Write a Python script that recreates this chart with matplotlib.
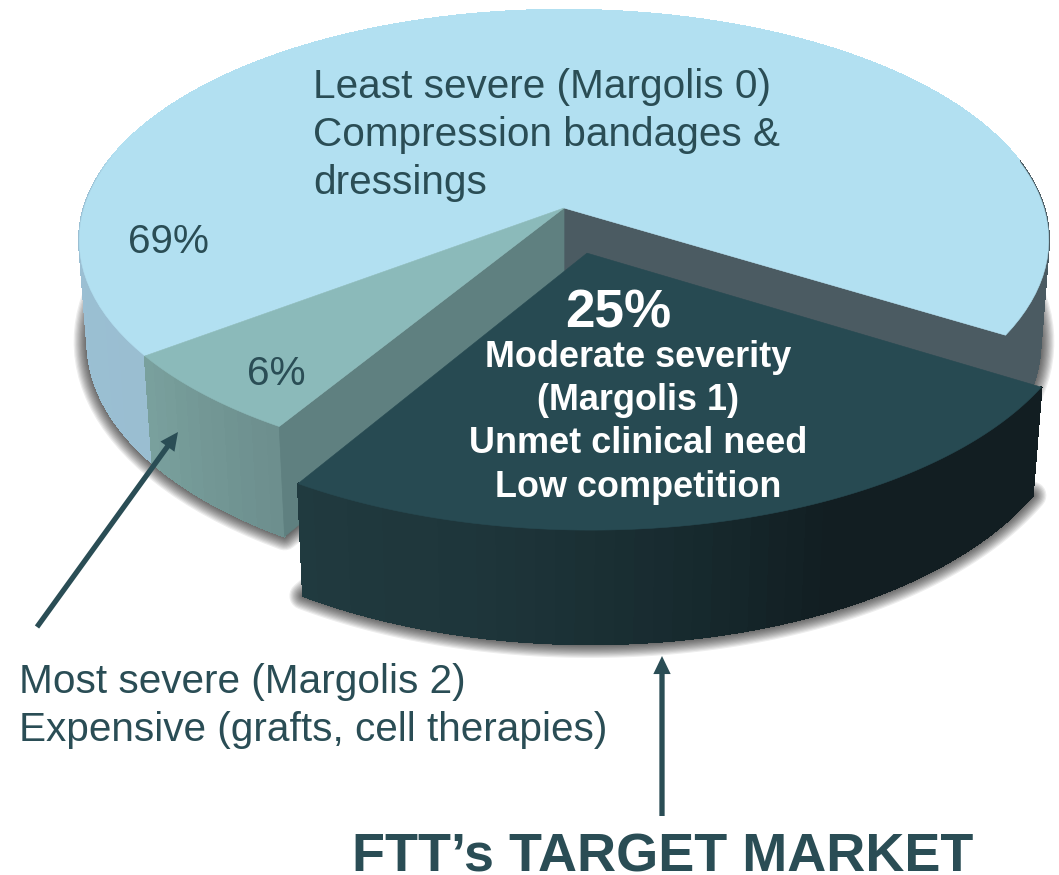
import numpy as np
import matplotlib
matplotlib.use('Agg')
import matplotlib.pyplot as plt
from matplotlib.colors import to_rgb
from matplotlib.patches import Polygon

# Market share of each wound severity group
labels = ['Least severe', 'Most severe', 'Moderate severity']
shares = [69, 6, 25]
start_angle = 328.5  # degrees, slices run counter-clockwise

top_colors = ['#b2e0f1', '#8bbaba', '#274a52']
text_color = '#2a4d55'

# Perspective camera for the pie (pixel units)
cx, cy = 564, 208
ax_x, ax_y = 480, 225.7
persp = 0.14
depth_y = 102.4
depth_w = 0.017

radius_main = 1.0
radius_out = 0.995
explode_dist = 0.2


def project(u, v, z=0.0):
    w = 1 + persp * v + depth_w * z
    return cx + ax_x * u / w, cy + (-ax_y * v + depth_y * z) / w


def arc(t1, t2, r, off, z=0.0, n=120):
    t = np.radians(np.linspace(t1, t2, n))
    return project(off[0] + r * np.cos(t), off[1] + r * np.sin(t), z)


def top_face(t1, t2, r, off):
    ax_, ay_ = project(off[0], off[1])
    xs, ys = arc(t1, t2, r, off)
    return np.column_stack([np.r_[ax_, xs], np.r_[ay_, ys]])


def bottom_face(t1, t2, r, off):
    ax_, ay_ = project(off[0], off[1], 1)
    xs, ys = arc(t1, t2, r, off, 1)
    return np.column_stack([np.r_[ax_, xs], np.r_[ay_, ys]])


def draw_rim(ax, t1, t2, r, off, stops, angles, zorder):
    # outer wall as thin quads so the colour can change along it
    edges = np.arange(t1, t2 + 2.0, 2.0)
    edges[-1] = t2
    rgb = np.array([to_rgb(c) for c in stops])
    for a, b in zip(edges[:-1], edges[1:]):
        xa, ya = arc(a, b, r, off, 0, 4)
        xb, yb = arc(a, b, r, off, 1, 4)
        pts = np.column_stack([np.r_[xa, xb[::-1]], np.r_[ya, yb[::-1]]])
        mid = (a + b) / 2
        col = [np.interp(mid, angles, rgb[:, i]) for i in range(3)]
        ax.add_patch(Polygon(pts, closed=True, fc=col, ec=col, lw=1.0, antialiased=False, zorder=zorder))


def draw_cut(ax, t, r, off, color, zorder):
    # flat wall from the slice apex to its rim
    u = off[0] + r * np.cos(np.radians(t))
    v = off[1] + r * np.sin(np.radians(t))
    corners = [project(off[0], off[1]), project(u, v), project(u, v, 1), project(off[0], off[1], 1)]
    ax.add_patch(Polygon(corners, closed=True, fc=color, ec=color, lw=0.5, zorder=zorder))


def draw_shadow(ax, pts, zorder):
    # soft shadow from stacked wide transparent strokes
    for lw in np.linspace(20, 1, 12):
        ax.add_patch(Polygon(pts, closed=True, fc='none', ec='black', lw=lw,
                             alpha=0.07, joinstyle='round', zorder=zorder))


# slice angles from the shares
sweeps = np.array(shares) * 360 / 100
ends = start_angle + np.cumsum(sweeps)
starts = ends - sweeps
mid_dark = np.radians((starts[2] + ends[2]) / 2)
off_dark = (explode_dist * np.cos(mid_dark), explode_dist * np.sin(mid_dark))
off_none = (0.0, 0.0)

fig = plt.figure(figsize=(10.59, 8.75), dpi=100)
ax = fig.add_axes([0, 0, 1, 1])
ax.set_xlim(0, 1059)
ax.set_ylim(875, 0)
ax.axis('off')

plt.rcParams['font.family'] = ['Liberation Sans', 'DejaVu Sans']

# shadows
draw_shadow(ax, bottom_face(starts[0], ends[1], radius_main, off_none), 1)
draw_shadow(ax, bottom_face(starts[2], ends[2], radius_out, off_dark), 1)

# walls of the two back slices, the hidden back part takes the top colour
draw_rim(ax, starts[0], ends[0], radius_main, off_none,
         ['#4b5b62', '#4b5b62', top_colors[0], top_colors[0], '#9bc0d4', '#9abed1'],
         [starts[0], 372, 373, 525, 535, ends[0]], 2)
draw_rim(ax, starts[1], ends[1], radius_main, off_none,
         ['#7aa19e', '#6c8e8d'], [starts[1], ends[1]], 2)
draw_cut(ax, starts[0], radius_main, off_none, '#4b5b62', 3)
draw_cut(ax, ends[1], radius_main, off_none, '#5f8080', 3)

# top faces
ax.add_patch(Polygon(top_face(starts[0], ends[0], radius_main, off_none), closed=True,
                     fc=top_colors[0], ec=top_colors[0], lw=0.4, zorder=4))
ax.add_patch(Polygon(top_face(starts[1], ends[1], radius_main, off_none), closed=True,
                     fc=top_colors[1], ec=top_colors[1], lw=0.4, zorder=4))

# exploded slice, its angles run past 360 so the colour stops do too
draw_rim(ax, starts[2], ends[2], radius_out, off_dark,
         ['#203a3f', '#1e353a', '#172a2e', '#121e22', '#121e22'],
         [starts[2], 620, 640, 655, ends[2]], 6)
ax.add_patch(Polygon(top_face(starts[2], ends[2], radius_out, off_dark), closed=True,
                     fc=top_colors[2], ec=top_colors[2], lw=0.4, zorder=7))

# arrows
arrow = dict(arrowstyle='simple,head_length=1.3,head_width=1.25,tail_width=0.38', color=text_color,
             lw=0, shrinkA=0, shrinkB=0, mutation_scale=10)
ax.annotate('', xy=(178, 432), xytext=(37, 627), arrowprops=arrow, zorder=8)
ax.annotate('', xy=(662, 656), xytext=(662, 816), arrowprops=arrow, zorder=8)

# labels
size_plain = 29.2
ax.text(313, 98, 'Least severe (Margolis 0)', fontsize=size_plain, color=text_color, zorder=9)
ax.text(313, 146, 'Compression bandages &', fontsize=size_plain, color=text_color, zorder=9)
ax.text(313, 194, 'dressings', fontsize=size_plain, color=text_color, zorder=9)
ax.text(128, 253, f'{shares[0]}%', fontsize=size_plain, color=text_color, zorder=9)
ax.text(247, 385, f'{shares[1]}%', fontsize=size_plain, color=text_color, zorder=9)
ax.text(19, 693, 'Most severe (Margolis 2)', fontsize=size_plain, color=text_color, zorder=9)
ax.text(19, 741, 'Expensive (grafts, cell therapies)', fontsize=size_plain, color=text_color, zorder=9)

ax.text(618, 327, f'{shares[2]}%', fontsize=38.2, fontweight='bold', color='white', ha='center', zorder=9)
size_bold = 25.9
for line, base in zip(['Moderate severity', '(Margolis 1)', 'Unmet clinical need', 'Low competition'],
                      [367, 410, 453, 497]):
    ax.text(638, base, line, fontsize=size_bold, fontweight='bold', color='white', ha='center', zorder=9)

ax.text(352, 872, 'FTT\u2019s TARGET MARKET', fontsize=38.9, fontweight='bold', color=text_color, zorder=9)

fig.savefig('out.png', dpi=100)
